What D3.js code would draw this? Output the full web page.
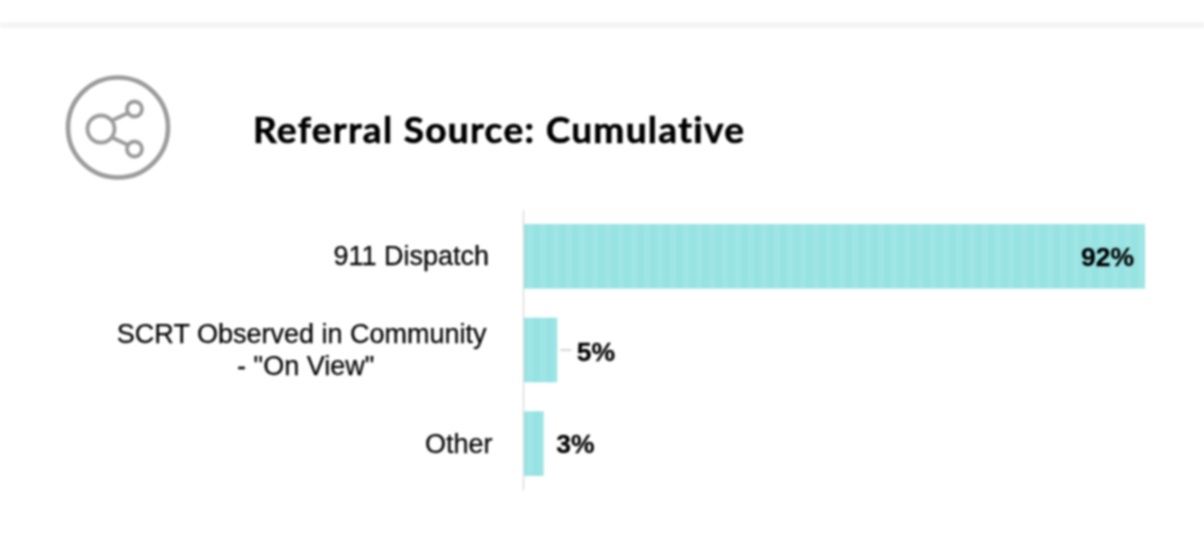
<!DOCTYPE html>
<html>
<head>
<meta charset="utf-8">
<script src="https://cdn.jsdelivr.net/npm/d3@7"></script>
<style>
  html, body { margin: 0; padding: 0; background: #fff; }
  svg { display: block; filter: blur(0.8px); }
  .title { font-family: Lato, sans-serif; font-weight: 700; font-size: 37px; fill: #000; stroke: #000; stroke-width: 0.6px; font-variant-ligatures: none; }
  .cat { font-family: "Liberation Sans", Arial, sans-serif; font-size: 27px; fill: #000; stroke: #000; stroke-width: 0.25px; }
  .val { font-family: "Liberation Sans", Arial, sans-serif; font-weight: 700; font-size: 26.5px; fill: #000; stroke: #000; stroke-width: 0.3px; }
</style>
</head>
<body>
<div id="chart"></div>
<script>
// Data
const categories = ["911 Dispatch", "SCRT Observed in Community\n- \"On View\"", "Other"];
const values = [92, 5, 3];
const titleText = "Referral Source: Cumulative";

// Canvas size
const width = 1204;
const height = 546;
const plot = { left: 523.5, right: 1145, top: 210, bottom: 490 };

const svg = d3.select("#chart")
  .append("svg")
  .attr("width", width)
  .attr("height", height);

// Faint band at the top of the card
svg.append("rect")
  .attr("x", 0)
  .attr("y", 22)
  .attr("width", width)
  .attr("height", 6)
  .attr("fill", "#f5f5f5");

// Share icon
const icon = svg.append("g")
  .attr("fill", "none")
  .attr("stroke", "#9c9c9c")
  .attr("stroke-width", 3.8);
icon.append("circle").attr("cx", 118).attr("cy", 127.5).attr("r", 50).attr("stroke-width", 4.6);
icon.append("circle").attr("cx", 101).attr("cy", 129).attr("r", 13.5);
icon.append("circle").attr("cx", 134.5).attr("cy", 109).attr("r", 7.5);
icon.append("circle").attr("cx", 134.5).attr("cy", 149).attr("r", 7.5);
icon.append("line").attr("x1", 113).attr("y1", 120).attr("x2", 128).attr("y2", 113);
icon.append("line").attr("x1", 113).attr("y1", 138).attr("x2", 128).attr("y2", 145);

// Title
svg.append("text")
  .attr("class", "title")
  .attr("x", 253)
  .attr("y", 143)
  .attr("textLength", 491)
  .text(titleText);

// Scales
const xScale = d3.scaleLinear()
  .domain([0, 92])
  .range([plot.left, plot.right]);

const yScale = d3.scaleBand()
  .domain(categories)
  .range([plot.top, plot.bottom])
  .paddingInner(0.31)
  .paddingOuter(0.15);

// Faint stripes on the bars
const defs = svg.append("defs");
const stripes = defs.append("pattern")
  .attr("id", "stripes")
  .attr("patternUnits", "userSpaceOnUse")
  .attr("width", 13)
  .attr("height", 10);
stripes.append("rect").attr("width", 13).attr("height", 10).attr("fill", "#97e2e2");
stripes.append("rect").attr("x", 7).attr("width", 6).attr("height", 10).attr("fill", "#9fe5e5");

// Bars
svg.selectAll(".bar")
  .data(values)
  .enter().append("rect")
  .attr("class", "bar")
  .attr("x", xScale(0))
  .attr("y", (d, i) => yScale(categories[i]))
  .attr("width", d => xScale(d) - xScale(0))
  .attr("height", yScale.bandwidth())
  .attr("fill", "url(#stripes)");

// Axis line
svg.append("line")
  .attr("x1", xScale(0))
  .attr("x2", xScale(0))
  .attr("y1", plot.top)
  .attr("y2", plot.bottom)
  .attr("stroke", "#dcdcdc")
  .attr("stroke-width", 1.5);

// Category labels, multi line ones are centred on each other
const catLabels = svg.selectAll(".cat")
  .data(categories)
  .enter().append("text")
  .attr("class", "cat")
  .attr("text-anchor", "middle");

catLabels.each(function (d) {
  const lines = d.split("\n");
  const label = d3.select(this);
  const cy = yScale(d) + yScale.bandwidth() / 2;
  const spans = lines.map((l, i) => label.append("tspan")
    .attr("y", cy + 9 + (i - (lines.length - 1) / 2) * 32)
    .text(l));
  const w = d3.max(spans, s => s.node().getComputedTextLength());
  const rightEdge = lines.length > 1 ? 486.5 : (d === "Other" ? 492.5 : 489);
  // second line sits a little right of centre in the original
  spans.forEach((s, i) => s.attr("x", rightEdge - w / 2 + (i > 0 ? 4 : 0)));
});

// Value labels
svg.selectAll(".val")
  .data(values)
  .enter().append("text")
  .attr("class", "val")
  .attr("text-anchor", (d, i) => i === 0 ? "end" : "start")
  .attr("x", (d, i) => i === 0 ? xScale(d) - 11 : xScale(d) + (i === 1 ? 19.5 : 12.5))
  .attr("y", (d, i) => yScale(categories[i]) + yScale.bandwidth() / 2 + (i === 1 ? 11 : i === 2 ? 9 : 10))
  .text(d => d + "%");

// Leader line for the 5% label
svg.append("line")
  .attr("x1", xScale(values[1]) + 3)
  .attr("x2", xScale(values[1]) + 14)
  .attr("y1", yScale(categories[1]) + yScale.bandwidth() / 2)
  .attr("y2", yScale(categories[1]) + yScale.bandwidth() / 2)
  .attr("stroke", "#c8c8c8")
  .attr("stroke-width", 1.5);
</script>
</body>
</html>
